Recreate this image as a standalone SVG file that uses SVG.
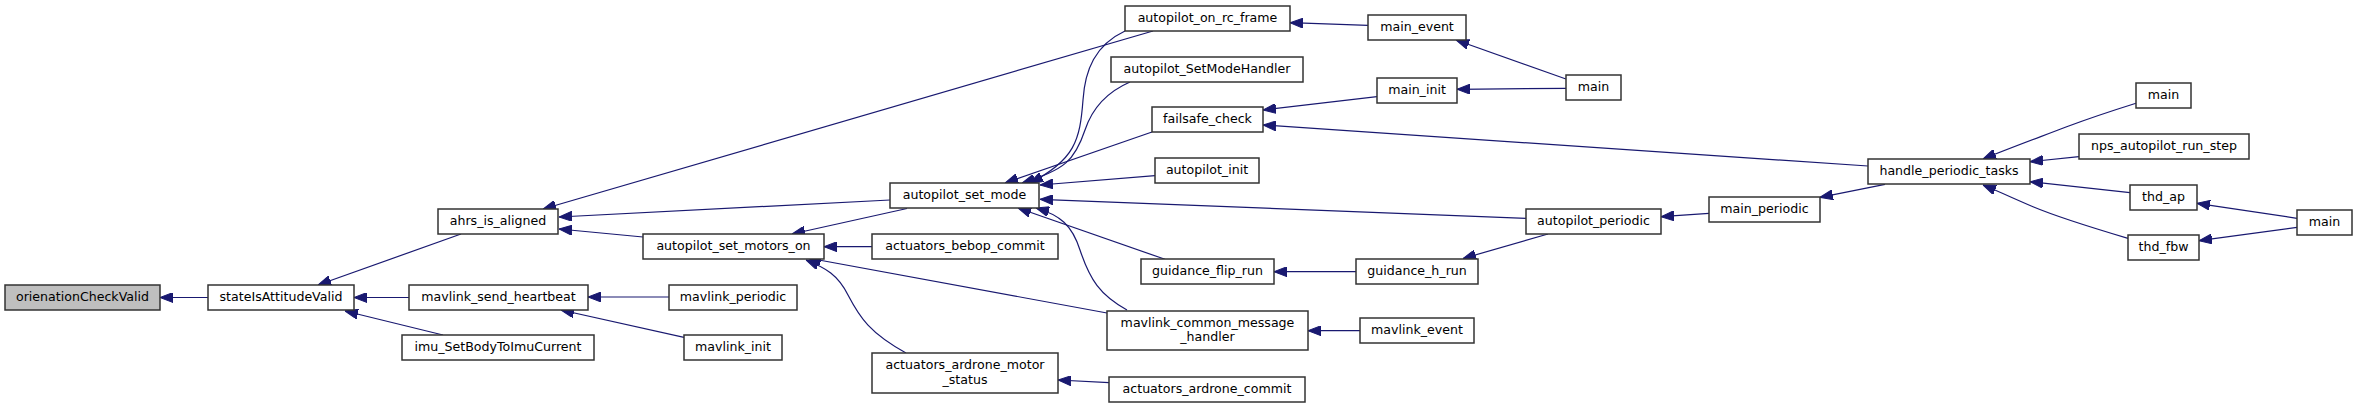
<svg xmlns="http://www.w3.org/2000/svg" width="2357" height="408" viewBox="0 0 2357 408">
<style>
.node rect{fill:#ffffff;stroke:#333333;stroke-width:1.5}
.node.cur rect{fill:#bfbfbf}
.node text{font-family:"DejaVu Sans",sans-serif;font-size:12.6px;fill:#000000;text-anchor:middle}
.edges path{fill:none;stroke:#191970;stroke-width:1.2;marker-end:url(#ah)}
</style>
<defs>
<marker id="ah" markerUnits="userSpaceOnUse" viewBox="0 0 13 10" refX="13" refY="5" markerWidth="13" markerHeight="10" orient="auto">
<path d="M0,0 L13,5 L0,10 z" fill="#191970" stroke="#191970" stroke-width="1"/>
</marker>
</defs>
<rect width="2357" height="408" fill="#ffffff"/>
<g class="edges" id="edges">
<path d="M208,297.5 L160,297.5"/>
<path d="M461,234 L318,285"/>
<path d="M409,297.5 L354,297.5"/>
<path d="M443,335 L345,311"/>
<path d="M669,297 L588,297"/>
<path d="M684,337.3 L561,310"/>
<path d="M1153,31 L543,209"/>
<path d="M890,200 L559,217"/>
<path d="M643,237 L559,229"/>
<path d="M907,208.5 L792,234"/>
<path d="M872,246.7 L824,246.7"/>
<path d="M1107,313 L808,258"/>
<path d="M906,353 C870,333 860,318 848,295 C838,275 826,268 806,260"/>
<path d="M1109,382.7 L1058,380"/>
<path d="M1125,31 C1095,45 1085,70 1083,100 C1080,140 1075,160 1030,183"/>
<path d="M1130,82 C1100,95 1090,115 1085,130 C1075,160 1065,170 1022,183"/>
<path d="M1152,132 L1005,183"/>
<path d="M1155,175.7 L1040,185"/>
<path d="M1526,218.3 L1040,199.3"/>
<path d="M1165,259.3 L1018,208"/>
<path d="M1127,310 C1100,295 1090,280 1080,250 C1072,225 1060,215 1036,208"/>
<path d="M1368,25.3 L1290,22.7"/>
<path d="M1566,79 L1456,40"/>
<path d="M1566,88.3 L1457,89.3"/>
<path d="M1377,96.7 L1263,110"/>
<path d="M1868,166 L1263,125"/>
<path d="M1356,271.7 L1274,271.7"/>
<path d="M1548,234 L1463,258.5"/>
<path d="M1360,330.7 L1308,330.7"/>
<path d="M1709,213.3 L1661,216.7"/>
<path d="M1885,184.3 L1820,197.3"/>
<path d="M2136,103.3 C2105,113 2085,120 2066,127 C2040,137 2010,148 1983,159"/>
<path d="M2079,156.7 L2030,161.7"/>
<path d="M2130,192.7 L2030,181.7"/>
<path d="M2128,238.3 C2100,230 2060,218 2033,206.7 C2015,199 2000,192 1983,185"/>
<path d="M2297,218.3 L2197,203.3"/>
<path d="M2297,227.3 L2199,240.7"/>
</g>
<g class="node cur" id="n_orien"><rect x="5" y="285" width="155" height="25"/><text x="82.5" y="301">orienationCheckValid</text></g>
<g class="node" id="n_state"><rect x="208" y="285" width="146" height="25"/><text x="281" y="301">stateIsAttitudeValid</text></g>
<g class="node" id="n_ahrs"><rect x="438" y="209" width="120" height="25"/><text x="498" y="225">ahrs_is_aligned</text></g>
<g class="node" id="n_heartbeat"><rect x="409" y="285" width="179" height="25"/><text x="498.5" y="301">mavlink_send_heartbeat</text></g>
<g class="node" id="n_imu"><rect x="402" y="335" width="192" height="25"/><text x="498" y="351">imu_SetBodyToImuCurrent</text></g>
<g class="node" id="n_motors"><rect x="643" y="234" width="181" height="25"/><text x="733.5" y="250">autopilot_set_motors_on</text></g>
<g class="node" id="n_mavperiodic"><rect x="669" y="285" width="128" height="25"/><text x="733" y="301">mavlink_periodic</text></g>
<g class="node" id="n_mavinit"><rect x="684" y="335" width="98" height="25"/><text x="733" y="351">mavlink_init</text></g>
<g class="node" id="n_setmode"><rect x="890" y="183" width="149" height="25"/><text x="964.5" y="199">autopilot_set_mode</text></g>
<g class="node" id="n_bebop"><rect x="872" y="234" width="186" height="25"/><text x="965" y="250">actuators_bebop_commit</text></g>
<g class="node" id="n_ardrone_status"><rect x="872" y="353" width="186" height="40"/><text x="965" y="369">actuators_ardrone_motor</text><text x="965" y="384">_status</text></g>
<g class="node" id="n_rcframe"><rect x="1125" y="6" width="165" height="25"/><text x="1207.5" y="22">autopilot_on_rc_frame</text></g>
<g class="node" id="n_setmodehandler"><rect x="1111" y="57" width="192" height="25"/><text x="1207" y="73">autopilot_SetModeHandler</text></g>
<g class="node" id="n_failsafe"><rect x="1152" y="107" width="111" height="25"/><text x="1207.5" y="123">failsafe_check</text></g>
<g class="node" id="n_apinit"><rect x="1155" y="158" width="104" height="25"/><text x="1207" y="174">autopilot_init</text></g>
<g class="node" id="n_flip"><rect x="1141" y="259" width="133" height="25"/><text x="1207.5" y="275">guidance_flip_run</text></g>
<g class="node" id="n_mavcommon"><rect x="1107" y="311" width="201" height="39"/><text x="1207.5" y="327">mavlink_common_message</text><text x="1207.5" y="341">_handler</text></g>
<g class="node" id="n_ardrone_commit"><rect x="1109" y="377" width="196" height="25"/><text x="1207" y="393">actuators_ardrone_commit</text></g>
<g class="node" id="n_mainevent"><rect x="1368" y="15" width="98" height="25"/><text x="1417" y="31">main_event</text></g>
<g class="node" id="n_maininit"><rect x="1377" y="78" width="80" height="25"/><text x="1417" y="94">main_init</text></g>
<g class="node" id="n_hrun"><rect x="1356" y="259" width="122" height="25"/><text x="1417" y="275">guidance_h_run</text></g>
<g class="node" id="n_mavevent"><rect x="1360" y="318" width="114" height="25"/><text x="1417" y="334">mavlink_event</text></g>
<g class="node" id="n_apperiodic"><rect x="1526" y="209" width="135" height="25"/><text x="1593.5" y="225">autopilot_periodic</text></g>
<g class="node" id="n_main1"><rect x="1566" y="75" width="55" height="25"/><text x="1593.5" y="91">main</text></g>
<g class="node" id="n_mainperiodic"><rect x="1709" y="197" width="111" height="25"/><text x="1764.5" y="213">main_periodic</text></g>
<g class="node" id="n_handle"><rect x="1868" y="159" width="162" height="25"/><text x="1949" y="175">handle_periodic_tasks</text></g>
<g class="node" id="n_main2"><rect x="2136" y="83" width="55" height="25"/><text x="2163.5" y="99">main</text></g>
<g class="node" id="n_nps"><rect x="2079" y="134" width="170" height="25"/><text x="2164" y="150">nps_autopilot_run_step</text></g>
<g class="node" id="n_thdap"><rect x="2130" y="185" width="67" height="25"/><text x="2163.5" y="201">thd_ap</text></g>
<g class="node" id="n_thdfbw"><rect x="2128" y="235" width="71" height="25"/><text x="2163.5" y="251">thd_fbw</text></g>
<g class="node" id="n_main3"><rect x="2297" y="210" width="55" height="25"/><text x="2324.5" y="226">main</text></g>
</svg>
